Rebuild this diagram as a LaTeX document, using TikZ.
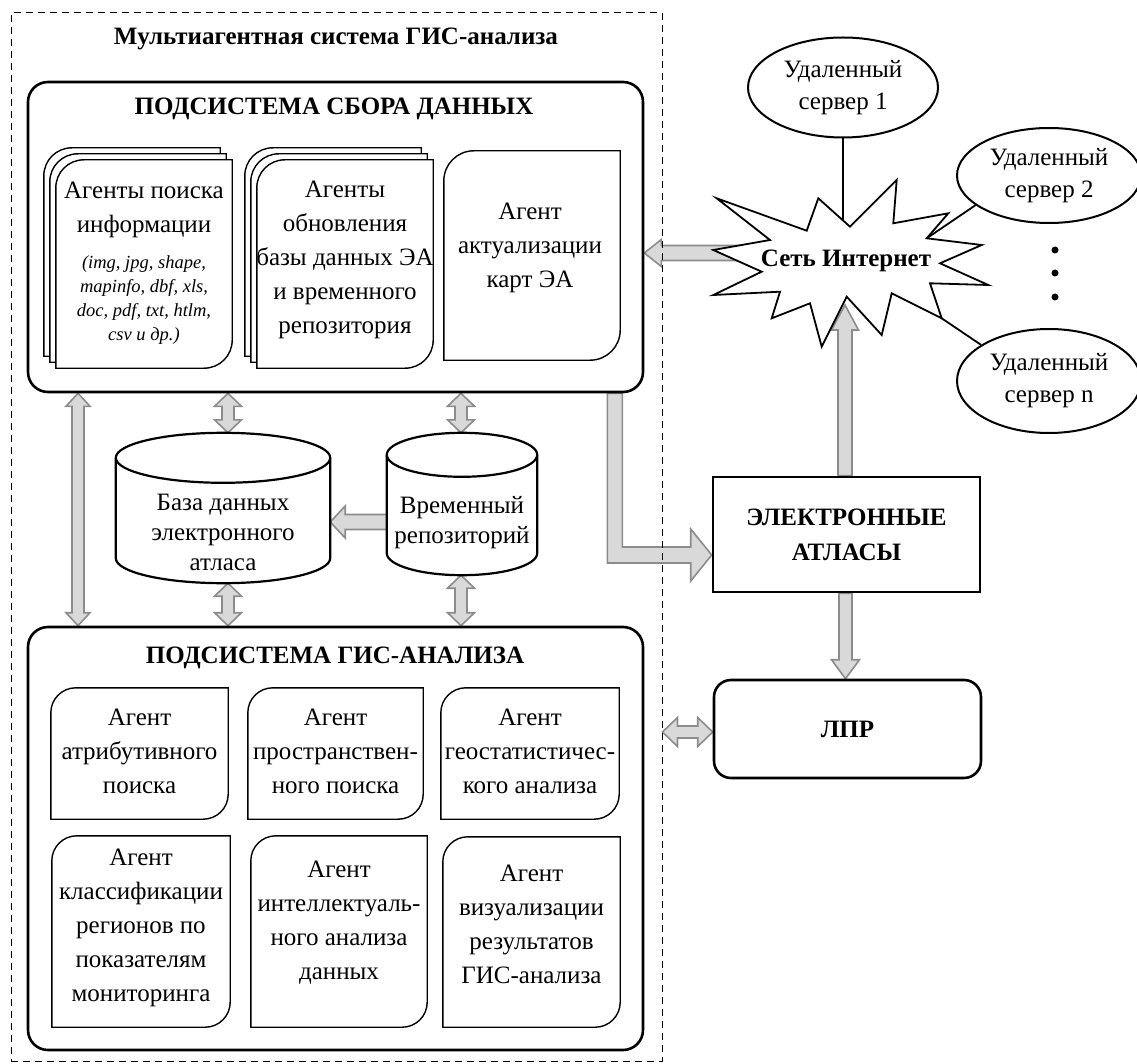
\documentclass[tikz,border=0pt]{standalone}
\usepackage{fontspec}
\setmainfont{Liberation Serif}
\usetikzlibrary{calc,shapes.geometric,backgrounds}
\definecolor{arrfill}{RGB}{217,217,217}
\definecolor{arrdraw}{RGB}{140,140,140}
\tikzset{
 blk/.style={fill=arrfill, draw=arrdraw, line width=1.6pt, line join=miter},
 agent/.style={draw=black, fill=white, line width=1.4pt},
 cylsty/.style={draw=black, line width=2.2pt},
 txt/.style={font=\fontsize{25}{34}\selectfont, align=center, inner sep=0pt},
 cyt/.style={font=\fontsize{25}{30}\selectfont, align=center, inner sep=0pt},
 itx/.style={font=\fontsize{18.5}{24}\selectfont\itshape, align=center, inner sep=0pt},
 bft/.style={font=\fontsize{25}{35}\selectfont\bfseries, align=center, inner sep=0pt},
 subsys/.style={draw=black, line width=2.6pt, rounded corners=20pt, inner sep=0pt},
 abox/.style={inner sep=0pt},
 server/.style={ellipse, draw=black, fill=white, line width=2pt, inner sep=0pt, font=\fontsize{25}{32}\selectfont, align=center},
 link/.style={line width=1.8pt, draw=black},
}
% agent page shape: rounded top-left and bottom-right corners
\newcommand\ashape[3]{\draw[agent] let \p1=(#1), \p2=(#2) in (\x1,\y1) -- (\x1,\y2-#3) arc[start angle=180,end angle=90,radius=#3] -- (\x2,\y2) -- (\x2,\y1+#3) arc[start angle=0,end angle=-90,radius=#3] -- cycle;}
% cylinder outline around a node
\newcommand\cylshape[2]{%
 \draw[cylsty, fill=white] let \p1=(#1.south west), \p2=(#1.north east), \n1={(\x2-\x1)/2} in (\x1,\y2-#2) -- (\x1,\y1+#2) arc[start angle=180,end angle=360,x radius={\n1*1pt},y radius=#2] -- (\x2,\y2-#2) arc[start angle=0,end angle=180,x radius={\n1*1pt},y radius=#2] -- cycle;
 \draw[cylsty] let \p1=(#1.south west), \p2=(#1.north east), \n1={(\x2-\x1)/2} in (\x1,\y2-#2) arc[start angle=180,end angle=360,x radius={\n1*1pt},y radius=#2];}
% vertical double block arrow: x, top point, bottom point, shaft half, head half, head length
\newcommand\dblV[6]{\path[blk] let \p1=(#2),\p2=(#3) in (#1,\y1) -- (#1+#5,\y1-#6) -- (#1+#4,\y1-#6) -- (#1+#4,\y2+#6) -- (#1+#5,\y2+#6) -- (#1,\y2) -- (#1-#5,\y2+#6) -- (#1-#4,\y2+#6) -- (#1-#4,\y1-#6) -- (#1-#5,\y1-#6) -- cycle;}
% horizontal double block arrow: y, left point, right point, shaft half, head half, head length
\newcommand\dblH[6]{\path[blk] let \p1=(#2),\p2=(#3) in (\x1,#1) -- (\x1+#6,#1+#5) -- (\x1+#6,#1+#4) -- (\x2-#6,#1+#4) -- (\x2-#6,#1+#5) -- (\x2,#1) -- (\x2-#6,#1-#5) -- (\x2-#6,#1-#4) -- (\x1+#6,#1-#4) -- (\x1+#6,#1-#5) -- cycle;}
% single block arrows
\newcommand\arrDown[6]{\path[blk] let \p1=(#2),\p2=(#3) in (#1-#4,\y1) -- (#1-#4,\y2+#6) -- (#1-#5,\y2+#6) -- (#1,\y2) -- (#1+#5,\y2+#6) -- (#1+#4,\y2+#6) -- (#1+#4,\y1) -- cycle;}
\newcommand\arrUp[6]{\path[blk] let \p1=(#2),\p2=(#3) in (#1-#4,\y1) -- (#1-#4,\y2-#6) -- (#1-#5,\y2-#6) -- (#1,\y2) -- (#1+#5,\y2-#6) -- (#1+#4,\y2-#6) -- (#1+#4,\y1) -- cycle;}
\newcommand\arrLeft[6]{\path[blk] let \p1=(#2),\p2=(#3) in (\x1,#1+#4) -- (\x2+#6,#1+#4) -- (\x2+#6,#1+#5) -- (\x2,#1) -- (\x2+#6,#1-#5) -- (\x2+#6,#1-#4) -- (\x1,#1-#4) -- cycle;}

\begin{document}
\begin{tikzpicture}[x=1pt,y=1pt]
\useasboundingbox (0,0) rectangle (1137,-1064);

% ---------- outer dashed frame ----------
\node[draw, dash pattern=on 7pt off 5pt, line width=1pt, minimum width=651pt, minimum height=1048pt, inner sep=0pt] (outer) at (336.5,-537) {};
\node[bft, anchor=base] (title) at (336,-45) {Мультиагентная система ГИС-анализа};

% ---------- data collection subsystem ----------
\node[subsys, minimum width=615pt, minimum height=310pt] (topbox) at (335.5,-237) {};
\node[bft, anchor=base] (toph) at (334,-115) {ПОДСИСТЕМА СБОРА ДАННЫХ};

\node[abox, minimum width=176pt, minimum height=208pt] (st1) at (144,-264) {};
\ashape{[xshift=-12pt,yshift=12pt]st1.south west}{[xshift=-12pt,yshift=12pt]st1.north east}{28pt}
\ashape{[xshift=-6pt,yshift=6pt]st1.south west}{[xshift=-6pt,yshift=6pt]st1.north east}{28pt}
\ashape{st1.south west}{st1.north east}{28pt}
\node[txt] (st1a) at (144,-210) {Агенты поиска\\информации};
\node[itx] (st1b) at (144,-300) {(img, jpg, shape,\\mapinfo, dbf, xls,\\doc, pdf, txt, htlm,\\csv и др.)};

\node[abox, minimum width=176pt, minimum height=208pt] (st2) at (345,-264) {};
\ashape{[xshift=-12pt,yshift=12pt]st2.south west}{[xshift=-12pt,yshift=12pt]st2.north east}{28pt}
\ashape{[xshift=-6pt,yshift=6pt]st2.south west}{[xshift=-6pt,yshift=6pt]st2.north east}{28pt}
\ashape{st2.south west}{st2.north east}{28pt}
\node[txt] (st2a) at (345,-260) {Агенты\\обновления\\базы данных ЭА\\и временного\\репозитория};

\node[abox, minimum width=176pt, minimum height=209pt] (ag3) at (532,-255.5) {};
\ashape{ag3.south west}{ag3.north east}{30pt}
\node[txt] (ag3t) at (530,-248) {Агент\\актуализации\\карт ЭА};

% ---------- databases ----------
\node[abox, minimum width=214pt, minimum height=150pt] (cylA) at (223,-508) {};
\cylshape{cylA}{25pt}
\node[cyt] (cylAt) at (223,-532) {База данных\\электронного\\атласа};
\node[abox, minimum width=150pt, minimum height=142pt] (cylB) at (462,-504) {};
\cylshape{cylB}{22pt}
\node[cyt] (cylBt) at (462,-523) {Временный\\репозиторий};

% ---------- GIS analysis subsystem ----------
\node[subsys, minimum width=615pt, minimum height=423pt] (botbox) at (335.5,-838.5) {};
\node[bft, anchor=base] (both) at (335,-663) {ПОДСИСТЕМА ГИС-АНАЛИЗА};

\node[abox, minimum width=177pt, minimum height=131pt] (b11) at (139.5,-753.5) {};
\node[abox, minimum width=175pt, minimum height=131pt] (b12) at (335.5,-753.5) {};
\node[abox, minimum width=178pt, minimum height=131pt] (b13) at (530,-753.5) {};
\node[abox, minimum width=178pt, minimum height=191pt] (b21) at (141,-931.5) {};
\node[abox, minimum width=176pt, minimum height=191pt] (b22) at (339,-931.5) {};
\node[abox, minimum width=177pt, minimum height=190pt] (b23) at (531.5,-932) {};
\foreach \b in {b11,b12,b13,b21,b22,b23} {\ashape{\b.south west}{\b.north east}{25pt}}
\node[txt] (t11) at (139.5,-751) {Агент\\атрибутивного\\поиска};
\node[txt] (t12) at (335.5,-751) {Агент\\пространствен-\\ного поиска};
\node[txt] (t13) at (530,-751) {Агент\\геостатистичес-\\кого анализа};
\node[txt] (t21) at (141,-927.5) {Агент\\классификации\\регионов по\\показателям\\мониторинга};
\node[txt] (t22) at (339,-923) {Агент\\интеллектуаль-\\ного анализа\\данных};
\node[txt] (t23) at (531.5,-924) {Агент\\визуализации\\результатов\\ГИС-анализа};

% ---------- right side ----------
\node[draw, line width=2.6pt, minimum width=267pt, minimum height=115pt, bft] (atlas) at (846.5,-534.5) {ЭЛЕКТРОННЫЕ\\АТЛАСЫ};
\node[draw, line width=2.6pt, rounded corners=17pt, minimum width=267pt, minimum height=98pt, bft] (lpr) at (847.5,-729) {ЛПР};

\node[server, minimum width=190pt, minimum height=100pt] (srv1) at (843,-87.5) {Удаленный\\сервер 1};
\node[server, minimum width=184pt, minimum height=95pt] (srv2) at (1049,-175.5) {Удаленный\\сервер 2};
\node[server, minimum width=184pt, minimum height=104pt] (srvn) at (1049,-381) {Удаленный\\сервер n};
\node[circle, fill=black, inner sep=0pt, minimum size=7pt] (d1) at (1055,-250) {};
\node[circle, fill=black, inner sep=0pt, minimum size=7pt] (d2) at (1055,-273) {};
\node[circle, fill=black, inner sep=0pt, minimum size=7pt] (d3) at (1055,-297) {};

% star (Internet)
\coordinate (s8) at (926.7,-238.3);
\coordinate (s13) at (941.7,-318.3);
\coordinate (nettip) at (845,-305);
\draw[line width=1.8pt, fill=white, line join=miter] (716.7,-198.3) -- (806.7,-230.7) -- (818.3,-198.3) -- (850,-226.7) -- (896.7,-180) -- (893.3,-223.3) -- (948.3,-213.3) -- (s8) -- (981.7,-245) -- (940,-263.3) -- (988.3,-285) -- (930,-283.3) -- (s13) -- (891.7,-293.3) -- (881.7,-335) -- (846.7,-296.7) -- (821.7,-346.7) -- (810,-303.3) -- (771.7,-318.3) -- (780,-291.7) -- (713.3,-295) -- (761.7,-271.7) -- (713.3,-250) -- (770,-240) -- cycle;
\node[bft, anchor=base] (net) at (846,-267) {Сеть Интернет};

% ---------- connectors (behind) ----------
\begin{scope}[on background layer]
\draw[link] (srv1.south) -- (srv1.south |- net.north);
\draw[link] (srv2.202) -- (s8);
\draw[link] (srvn.152) -- (s13);

\dblV{78pt}{topbox.south}{botbox.north}{6pt}{12pt}{13pt}
\dblV{228pt}{topbox.south}{cylA.north}{6pt}{13.5pt}{13pt}
\dblV{461pt}{topbox.south}{cylB.north}{6pt}{13.5pt}{13pt}
\dblV{228pt}{cylA.south}{botbox.north}{6pt}{13.5pt}{13pt}
\dblV{461pt}{cylB.south}{botbox.north}{6pt}{13.5pt}{13pt}
\arrLeft{-522pt}{cylB.west}{cylA.east}{7.5pt}{16pt}{15pt}
\arrLeft{-253pt}{net.west}{topbox.east}{7.5pt}{13.5pt}{17pt}
\arrUp{845pt}{atlas.north}{nettip}{7pt}{13.5pt}{25pt}
\arrDown{845.5pt}{atlas.south}{lpr.north}{6.5pt}{14pt}{19pt}
\dblH{-732pt}{outer.east}{lpr.west}{6pt}{14.5pt}{15pt}
\path[blk] let \p1=(topbox.south east), \p2=(atlas.west) in
 (\x1-37pt,\y1) -- (\x1-37pt,\y2-28.5pt) -- (\x2-21pt,\y2-28.5pt) -- (\x2-21pt,\y2-46.5pt) -- (\x2,\y2-20.5pt) -- (\x2-21pt,\y2+5.5pt) -- (\x2-21pt,\y2-12.5pt) -- (\x1-22pt,\y2-12.5pt) -- (\x1-22pt,\y1) -- cycle;
\end{scope}
\end{tikzpicture}
\end{document}
